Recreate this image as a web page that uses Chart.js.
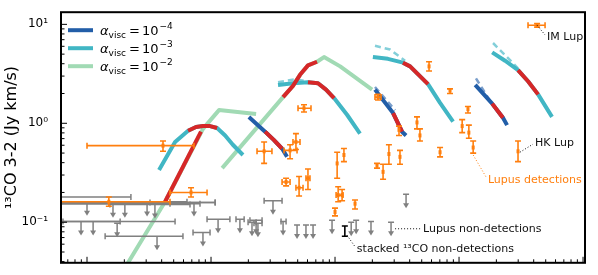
<!DOCTYPE html>
<html>
<head>
<meta charset="utf-8">
<script src="https://cdn.jsdelivr.net/npm/chart.js@4.4.0/dist/chart.umd.min.js"></script>
<style>
html, body { margin: 0; padding: 0; background: #fff; overflow: hidden; }
canvas { display: block; }
</style>
</head>
<body>
<canvas id="chart" width="598" height="275"></canvas>
<script>
// model tracks, one list per disk model (x, 13CO flux)
const a4X = [[2.02e-4, 2.73e-4, 3.22e-4, 3.74e-4, 4.10e-4],
             [2.10e-3, 2.94e-3, 3.47e-3, 3.74e-3],
             [1.35e-2, 1.85e-2, 2.26e-2, 2.44e-2]];
const a4Y = [[1.16, 0.823, 0.676, 0.556, 0.458],
             [2.19, 1.27, 0.823, 0.754],
             [2.44, 1.58, 1.14, 0.958]];
const a3X = [[3.81e-5, 5.13e-5, 6.53e-5, 7.57e-5, 8.61e-5, 9.82e-5, 1.12e-4, 1.30e-4, 1.50e-4, 1.81e-4],
             [3.47e-4, 4.58e-4, 6.05e-4, 7.29e-4, 8.46e-4, 9.82e-4, 1.25e-3, 1.59e-3],
             [2.02e-3, 2.67e-3, 3.53e-3, 4.03e-3, 5.62e-3, 7.03e-3, 8.95e-3],
             [1.85e-2, 2.35e-2, 2.99e-2, 3.60e-2, 4.34e-2, 5.62e-2]];
const a3Y = [[0.338, 0.648, 0.841, 0.917, 0.937, 0.937, 0.897, 0.754, 0.607, 0.478],
             [2.44, 2.54, 2.60, 2.54, 2.19, 1.80, 1.22, 0.787],
             [4.67, 4.48, 4.10, 3.76, 2.49, 1.61, 1.04],
             [5.21, 4.29, 3.45, 2.66, 1.96, 1.16]];
const a2X = [[2.02e-5, 4.26e-5, 8.61e-5, 1.16e-4, 2.31e-4],
             [1.23e-4, 3.81e-4, 4.58e-4, 5.22e-4, 6.05e-4, 7.16e-4, 8.15e-4, 1.10e-3, 1.99e-3]];
const a2Y = [[0.0345, 0.161, 0.878, 1.36, 1.24],
             [0.352, 1.84, 2.39, 3.09, 3.85, 4.19, 4.67, 3.76, 2.19]];

// alternative (dashed) tracks
const a4DashX = [[2.10e-3, 3.05e-3], [1.37e-2, 1.78e-2]];
const a4DashY = [[2.33, 1.36], [2.84, 1.68]];
const a3DashX = [[3.47e-4, 4.75e-4, 6.05e-4], [2.10e-3, 2.78e-3, 3.67e-3], [1.88e-2, 2.99e-2]];
const a3DashY = [[2.60, 2.78, 2.66], [6.07, 5.56, 4.29], [6.48, 3.60]];

// highlighted parts of the tracks
const hotX = [[4.26e-5, 8.30e-5],
              [6.53e-5, 7.57e-5, 8.61e-5, 9.82e-5, 1.12e-4],
              [2.73e-4, 3.22e-4, 3.74e-4],
              [3.81e-4, 4.58e-4, 5.22e-4, 6.05e-4, 7.16e-4],
              [6.05e-4, 7.29e-4, 8.46e-4, 9.82e-4],
              [2.94e-3, 3.47e-3],
              [3.53e-3, 4.03e-3, 5.62e-3],
              [1.85e-2, 2.26e-2],
              [2.99e-2, 3.60e-2, 4.34e-2]];
const hotY = [[0.161, 0.823],
              [0.841, 0.917, 0.937, 0.937, 0.897],
              [0.823, 0.676, 0.556],
              [1.84, 2.39, 3.09, 3.85, 4.19],
              [2.60, 2.54, 2.19, 1.80],
              [1.27, 0.823],
              [4.10, 3.76, 2.49],
              [1.58, 1.14],
              [3.45, 2.66, 1.96]];

// Lupus detections
const detX   = [4.10e-5, 6.90e-5, 1.50e-5, 5.62e-4, 2.68e-4, 4.84e-4, 4.34e-4, 4.03e-4, 5.13e-4, 6.05e-4, 1.04e-3, 1.18e-3, 1.06e-3, 1.14e-3, 1.00e-3, 1.45e-3, 2.18e-3, 2.44e-3, 2.72e-3, 3.34e-3, 3.28e-3, 2.22e-3, 5.73e-3, 8.46e-3, 4.58e-3, 4.84e-3, 1.18e-2, 1.06e-2, 1.20e-2, 7.03e-3, 1.30e-2, 2.99e-2, 4.26e-2];
const detXlo = [1.00e-5, 4.67e-5, 5.50e-6, 5.03e-4, 2.35e-4, 4.58e-4, 3.88e-4, 3.74e-4, 4.84e-4, 5.83e-4, 1.04e-3, 1.18e-3, 1.02e-3, 1.14e-3, 1.00e-3, 1.45e-3, 2.18e-3, 2.44e-3, 2.72e-3, 3.34e-3, 3.28e-3, 2.10e-3, 5.73e-3, 8.46e-3, 4.58e-3, 4.84e-3, 1.18e-2, 1.06e-2, 1.20e-2, 7.03e-3, 1.30e-2, 2.99e-2, 3.60e-2];
const detXhi = [7.29e-5, 9.29e-5, 4.67e-5, 6.40e-4, 3.10e-4, 5.22e-4, 4.94e-4, 4.34e-4, 5.52e-4, 6.28e-4, 1.04e-3, 1.18e-3, 1.16e-3, 1.14e-3, 1.00e-3, 1.45e-3, 2.18e-3, 2.44e-3, 2.72e-3, 3.34e-3, 3.28e-3, 2.35e-3, 5.73e-3, 8.46e-3, 4.58e-3, 4.84e-3, 1.18e-2, 1.06e-2, 1.20e-2, 7.03e-3, 1.30e-2, 2.99e-2, 4.94e-2];
const detY   = [0.594, 0.200, 0.161, 1.42, 0.521, 0.648, 0.532, 0.255, 0.223, 0.278, 0.393, 0.478, 0.188, 0.188, 0.127, 0.154, 0.376, 0.323, 0.489, 0.458, 0.859, 1.84, 3.76, 2.14, 1.02, 0.754, 1.39, 0.937, 0.805, 0.510, 0.569, 0.521, 9.79];
const detYlo = [0.521, 0.180, 0.145, 1.30, 0.393, 0.544, 0.438, 0.233, 0.184, 0.214, 0.278, 0.410, 0.161, 0.165, 0.116, 0.136, 0.352, 0.272, 0.385, 0.385, 0.754, 1.72, 3.38, 2.00, 0.878, 0.662, 1.27, 0.805, 0.706, 0.458, 0.499, 0.410, 9.37];
const detYhi = [0.662, 0.223, 0.180, 1.54, 0.648, 0.787, 0.607, 0.278, 0.290, 0.345, 0.510, 0.556, 0.228, 0.214, 0.139, 0.168, 0.393, 0.385, 0.607, 0.532, 0.937, 1.96, 4.19, 2.23, 1.16, 0.878, 1.48, 1.09, 0.958, 0.569, 0.662, 0.662, 10.2];

// Lupus non-detections (upper limits)
const limX   = [1.00e-5, 1.62e-5, 2.02e-5, 3.05e-5, 3.53e-5, 7.29e-5, 5.83e-6, 8.95e-6, 1.12e-5, 1.75e-5, 3.67e-5, 8.61e-5, 1.14e-4, 1.71e-4, 2.14e-4, 2.31e-4, 2.39e-4, 3.16e-4, 3.81e-4, 4.94e-4, 5.83e-4, 6.65e-4, 9.46e-4, 1.35e-3, 1.48e-3, 1.95e-3, 2.83e-3, 3.74e-3];
const limXlo = [5.52e-6, 5.52e-6, 5.52e-6, 5.52e-6, 1.53e-5, 3.22e-5, 5.52e-6, 6.40e-6, 5.52e-6, 1.75e-5, 1.40e-5, 7.16e-5, 9.29e-5, 1.59e-4, 1.99e-4, 2.06e-4, 2.22e-4, 2.68e-4, 3.67e-4, 4.94e-4, 5.83e-4, 6.65e-4, 9.46e-4, 1.35e-3, 1.48e-3, 1.95e-3, 2.83e-3, 3.74e-3];
const limXhi = [6.40e-5, 8.15e-5, 4.67e-5, 1.08e-4, 6.77e-5, 1.08e-4, 2.26e-5, 5.13e-5, 1.85e-5, 1.75e-5, 5.94e-5, 9.82e-5, 1.42e-4, 1.85e-4, 2.31e-4, 2.58e-4, 2.58e-4, 3.74e-4, 4.03e-4, 4.94e-4, 5.83e-4, 6.65e-4, 9.46e-4, 1.35e-3, 1.48e-3, 1.95e-3, 2.83e-3, 3.74e-3];
const limY   = [0.161, 0.154, 0.154, 0.158, 0.151, 0.158, 0.180, 0.102, 0.102, 0.0979, 0.0722, 0.0787, 0.107, 0.107, 0.100, 0.105, 0.0979, 0.165, 0.102, 0.0937, 0.0937, 0.0937, 0.105, 0.100, 0.105, 0.102, 0.100, 0.192];

// stacked non-detections
const stackX = [1.20e-3];
const stackY = [0.0805];
const stackYlo = [0.0722];
const stackYhi = [0.0917];

// annotations
const noteText = ['IM Lup', 'HK Lup', 'Lupus detections', 'Lupus non-detections', 'stacked \u00b9\u00b3CO non-detections'];
const noteX = [5.13e-2, 4.10e-2, 1.71e-2, 5.12e-3, 1.50e-3];
const noteY = [7.38, 0.634, 0.266, 0.0859, 0.0532];
const tipX = [4.26e-2, 3.10e-2, 1.30e-2, 3.05e-3, 1.25e-3];
const tipY = [9.79, 0.510, 0.478, 0.0859, 0.0738];

const legendExp = ['\u22124', '\u22123', '\u22122'];

const BLUE = '#225ea8', TEAL = '#41b6c4', GREEN = '#a1dab4';
const RED = '#d62728', ORANGE = '#ff7f0e', GRAY = '#808080';
const FONT = '"DejaVu Sans", sans-serif';

const pts = (xs, ys) => xs.map((v, i) => ({x: v, y: ys[i]}));
const track = (xs, ys, color, order, extra) => ({
    data: pts(xs, ys), borderColor: color, borderWidth: 4, pointRadius: 0,
    tension: 0, fill: false, order: order, clip: 0, borderJoinStyle: 'round', ...extra
});

const datasets = [];
a2X.forEach((xs, i) => datasets.push(track(xs, a2Y[i], GREEN, 5)));
a3X.forEach((xs, i) => datasets.push(track(xs, a3Y[i], TEAL, 4)));
a4X.forEach((xs, i) => datasets.push(track(xs, a4Y[i], BLUE, 3)));
a3DashX.forEach((xs, i) => datasets.push(track(xs, a3DashY[i], 'rgba(65,182,196,0.65)', 2, {borderWidth: 2.5, borderDash: [6, 4]})));
a4DashX.forEach((xs, i) => datasets.push(track(xs, a4DashY[i], 'rgba(34,94,168,0.6)', 2, {borderWidth: 2.5, borderDash: [6, 4]})));
hotX.forEach((xs, i) => datasets.push(track(xs, hotY[i], RED, 1)));

function logTicks(min, max) {
    const major = [], minor = [];
    for (let p = Math.floor(Math.log10(min)); p <= Math.ceil(Math.log10(max)); p++) {
        for (let m = 1; m < 10; m++) {
            const v = m * Math.pow(10, p);
            if (v >= min && v <= max) (m === 1 ? major : minor).push(v);
        }
    }
    return {major, minor};
}

const errorBars = {
    id: 'errorBars',
    afterDatasetsDraw(chart) {
        const {ctx, chartArea: a, scales: {x, y}} = chart;
        ctx.save();
        ctx.beginPath();
        ctx.rect(a.left, a.top, a.right - a.left, a.bottom - a.top);
        ctx.clip();
        ctx.lineWidth = 1.5;

        // upper limits
        ctx.strokeStyle = GRAY;
        ctx.fillStyle = GRAY;
        limX.forEach((v, i) => {
            const px = x.getPixelForValue(v), py = y.getPixelForValue(limY[i]);
            const l = x.getPixelForValue(limXlo[i]), r = x.getPixelForValue(limXhi[i]);
            ctx.beginPath();
            if (r - l > 1) {
                ctx.moveTo(l, py); ctx.lineTo(r, py);
                ctx.moveTo(l, py - 3); ctx.lineTo(l, py + 3);
                ctx.moveTo(r, py - 3); ctx.lineTo(r, py + 3);
            }
            ctx.moveTo(px - 3, py); ctx.lineTo(px + 3, py);
            ctx.moveTo(px, py); ctx.lineTo(px, py + 10);
            ctx.stroke();
            ctx.beginPath();
            ctx.moveTo(px - 3, py + 9); ctx.lineTo(px + 3, py + 9); ctx.lineTo(px, py + 14);
            ctx.closePath();
            ctx.fill();
        });

        // stacked
        ctx.strokeStyle = '#000';
        ctx.lineWidth = 1.6;
        stackX.forEach((v, i) => {
            const px = x.getPixelForValue(v);
            const t = y.getPixelForValue(stackYhi[i]), b = y.getPixelForValue(stackYlo[i]);
            ctx.beginPath();
            ctx.moveTo(px, t); ctx.lineTo(px, b);
            ctx.moveTo(px - 3, t); ctx.lineTo(px + 3, t);
            ctx.moveTo(px - 3, b); ctx.lineTo(px + 3, b);
            ctx.stroke();
        });

        // detections
        ctx.strokeStyle = ORANGE;
        ctx.fillStyle = ORANGE;
        ctx.lineWidth = 1.6;
        detX.forEach((v, i) => {
            const px = x.getPixelForValue(v), py = y.getPixelForValue(detY[i]);
            const l = x.getPixelForValue(detXlo[i]), r = x.getPixelForValue(detXhi[i]);
            const t = y.getPixelForValue(detYhi[i]), b = y.getPixelForValue(detYlo[i]);
            ctx.beginPath();
            if (r - l > 1) {
                ctx.moveTo(l, py); ctx.lineTo(r, py);
                ctx.moveTo(l, py - 3); ctx.lineTo(l, py + 3);
                ctx.moveTo(r, py - 3); ctx.lineTo(r, py + 3);
            }
            ctx.moveTo(px, t); ctx.lineTo(px, b);
            ctx.moveTo(px - 3, t); ctx.lineTo(px + 3, t);
            ctx.moveTo(px - 3, b); ctx.lineTo(px + 3, b);
            ctx.stroke();
            ctx.fillRect(px - 1.5, py - 2, 3, 4);
        });
        ctx.restore();
    }
};

const decorations = {
    id: 'decorations',
    afterDraw(chart) {
        const {ctx, chartArea: a, scales: {x, y}} = chart;
        ctx.save();

        // inward ticks on left and bottom
        ctx.strokeStyle = '#000';
        ctx.lineWidth = 1;
        const xt = logTicks(x.min, x.max), yt = logTicks(y.min, y.max);
        ctx.beginPath();
        xt.major.forEach(v => { const p = x.getPixelForValue(v); ctx.moveTo(p, a.bottom); ctx.lineTo(p, a.bottom - 6); });
        xt.minor.forEach(v => { const p = x.getPixelForValue(v); ctx.moveTo(p, a.bottom); ctx.lineTo(p, a.bottom - 3.5); });
        yt.major.forEach(v => { const p = y.getPixelForValue(v); ctx.moveTo(a.left, p); ctx.lineTo(a.left + 6, p); });
        yt.minor.forEach(v => { const p = y.getPixelForValue(v); ctx.moveTo(a.left, p); ctx.lineTo(a.left + 3.5, p); });
        ctx.stroke();

        // frame
        ctx.lineWidth = 2;
        ctx.strokeRect(a.left, a.top, a.right - a.left, a.bottom - a.top);

        // legend
        const colors = [BLUE, TEAL, GREEN];
        legendExp.forEach((exp, i) => {
            const yy = a.top + 18 + i * 18;
            ctx.strokeStyle = colors[i];
            ctx.lineWidth = 4;
            ctx.beginPath();
            ctx.moveTo(a.left + 7, yy); ctx.lineTo(a.left + 32, yy);
            ctx.stroke();
            ctx.fillStyle = '#000';
            ctx.textBaseline = 'alphabetic';
            ctx.textAlign = 'left';
            const base = yy + 5;
            let tx = a.left + 39;
            ctx.font = 'italic 13px ' + FONT;
            ctx.fillText('\u03b1', tx, base); tx += ctx.measureText('\u03b1').width;
            ctx.font = '9px ' + FONT;
            ctx.fillText('visc', tx, base + 3); tx += ctx.measureText('visc').width + 3;
            ctx.font = '13px ' + FONT;
            ctx.fillText('=', tx, base); tx += ctx.measureText('=').width + 2;
            ctx.fillText('10', tx, base); tx += ctx.measureText('10').width + 1;
            ctx.font = '9px ' + FONT;
            ctx.fillText(exp, tx, base - 6);
        });

        // annotations
        ctx.font = '11px ' + FONT;
        ctx.textBaseline = 'middle';
        ctx.textAlign = 'left';
        noteText.forEach((txt, i) => {
            const col = i === 2 ? ORANGE : '#111';
            const px = x.getPixelForValue(noteX[i]), py = y.getPixelForValue(noteY[i]);
            const qx = x.getPixelForValue(tipX[i]), qy = y.getPixelForValue(tipY[i]);
            const f = 1 - 2 / Math.max(px - qx, 3);
            ctx.strokeStyle = col;
            ctx.lineWidth = 1;
            ctx.setLineDash([1, 2]);
            ctx.beginPath();
            ctx.moveTo(qx, qy);
            ctx.lineTo(qx + (px - qx) * f, qy + (py - qy) * f);
            ctx.stroke();
            ctx.setLineDash([]);
            ctx.fillStyle = col;
            ctx.fillText(txt, px, py);
        });
        ctx.restore();
    }
};

const supers = {'-2': '\u207b\u00b2', '-1': '\u207b\u00b9', '0': '\u2070', '1': '\u00b9', '2': '\u00b2'};

new Chart(document.getElementById('chart'), {
    type: 'line',
    data: {datasets: datasets},
    options: {
        responsive: false,
        animation: false,
        layout: {padding: {left: 0, right: 13, top: 5, bottom: 1.5}},
        plugins: {legend: {display: false}, tooltip: {enabled: false}},
        scales: {
            x: {
                type: 'logarithmic', min: 6.17e-6, max: 1.037e-1,
                ticks: {display: false},
                grid: {display: false},
                border: {display: false},
                afterFit(s) { s.height = 0; }
            },
            y: {
                type: 'logarithmic', min: 0.0389, max: 13.27,
                grid: {display: false},
                border: {display: false},
                afterBuildTicks(s) { s.ticks = [0.1, 1, 10].map(v => ({value: v})); },
                ticks: {
                    autoSkip: false, padding: 5, color: '#000',
                    font: {family: FONT, size: 12},
                    callback: v => '10' + supers[String(Math.round(Math.log10(v)))]
                },
                title: {
                    display: true, text: '\u00b9\u00b3CO 3-2 (Jy km/s)', color: '#000',
                    font: {family: FONT, size: 16}, padding: {top: 2, bottom: 0}
                },
                afterFit(s) { s.width = 61; }
            }
        }
    },
    plugins: [errorBars, decorations]
});
</script>
</body>
</html>
